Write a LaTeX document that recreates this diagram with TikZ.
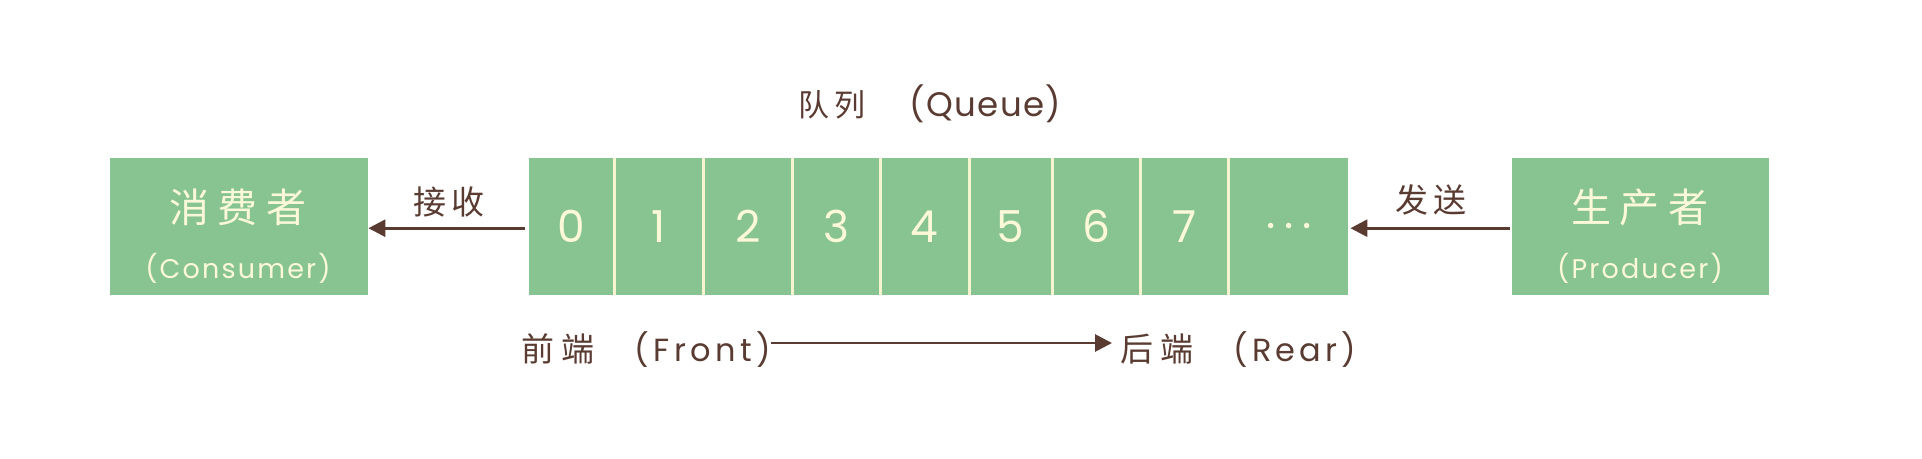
\documentclass[tikz,border=0pt]{standalone}
\usepackage{fontspec}
\newfontfamily\cjk{Noto Sans CJK SC}
\newfontfamily\lat{Poppins}
\usetikzlibrary{arrows.meta}
\definecolor{boxgreen}{HTML}{88C491}
\definecolor{cream}{HTML}{F6F3CF}
\definecolor{creamtext}{HTML}{FCF8D8}
\definecolor{brown}{HTML}{5A3B32}
\tikzset{
  x=1pt, y=-1pt,
  greenbox/.style={fill=boxgreen, draw=none, inner sep=0pt, anchor=north west},
  cell/.style={fill=boxgreen, draw=none, inner sep=0pt, minimum height=137pt, anchor=north west},
  digit/.style={text=creamtext, font=\lat\fontsize{44}{44}\selectfont, inner sep=0pt},
  boxcn/.style={text=creamtext, font=\cjk\fontsize{40}{40}\selectfont\addfontfeatures{LetterSpace=22}, inner sep=0pt},
  boxen/.style={text=creamtext, font=\lat\fontsize{27}{27}\selectfont\addfontfeatures{LetterSpace=8}, inner sep=0pt},
  lbl/.style={text=brown, inner sep=0pt},
  arr/.style={draw=brown, line width=2.8pt, -{Triangle[length=17pt,width=17pt]}},
}
\begin{document}
\begin{tikzpicture}
\useasboundingbox (0,0) rectangle (1922,458);
% consumer / producer
\node[greenbox, minimum width=258pt, minimum height=137pt] (consumer) at (110,158) {};
\node[greenbox, minimum width=257pt, minimum height=137pt] (producer) at (1512,158) {};
\node[boxcn] (consumerCn) at (238,207) {消费者};
\node[boxen] (consumerEn) at (238,268) {(Consumer)};
\node[boxcn] (producerCn) at (1640,207) {生产者};
\node[boxen] (producerEn) at (1640,268) {(Producer)};
% queue background (divider colour)
\fill[cream] (529,158) rectangle (1348,295);
\node[cell, minimum width=83.5pt] (c0) at (529,158) {};
\node[cell, minimum width=86pt] (c1) at (615.5,158) {};
\node[cell, minimum width=86pt] (c2) at (704.5,158) {};
\node[cell, minimum width=85pt] (c3) at (793.5,158) {};
\node[cell, minimum width=86pt] (c4) at (881.5,158) {};
\node[cell, minimum width=80pt] (c5) at (970.5,158) {};
\node[cell, minimum width=85pt] (c6) at (1053.5,158) {};
\node[cell, minimum width=85pt] (c7) at (1141.5,158) {};
\node[cell, minimum width=118.5pt] (c8) at (1229.5,158) {};
\foreach \i in {0,...,7} {\node[digit] at (c\i.center) {\i};}
\node[digit, anchor=base] (dots) at ([yshift=-2pt]c8.center) {.\hspace{9pt}.\hspace{9pt}.};
% labels
\node[lbl, anchor=west, font=\cjk\fontsize{31}{31}\selectfont\addfontfeatures{LetterSpace=18}] (queue) at (798,104) {队列\hspace{44pt}{\lat\fontsize{34}{34}\selectfont\addfontfeatures{LetterSpace=4}(Queue)}};
\node[lbl, font=\cjk\fontsize{33}{33}\selectfont\addfontfeatures{LetterSpace=18}] (recv) at (449,202) {接收};
\node[lbl, font=\cjk\fontsize{33}{33}\selectfont\addfontfeatures{LetterSpace=18}] (send) at (1431,200) {发送};
\node[lbl, anchor=west, font=\cjk\fontsize{33}{33}\selectfont\addfontfeatures{LetterSpace=22}] (front) at (521,350) {前端\hspace{40pt}{\lat\fontsize{32}{32}\selectfont\addfontfeatures{LetterSpace=14}(Front)}};
\node[lbl, anchor=west, font=\cjk\fontsize{33}{33}\selectfont\addfontfeatures{LetterSpace=22}] (rear) at (1120,350) {后端\hspace{40pt}{\lat\fontsize{32}{32}\selectfont\addfontfeatures{LetterSpace=13}(Rear)}};
% connectors
\draw[arr] ([xshift=-4pt,yshift=-1.5pt]c0.west) -- ([yshift=-1.5pt]consumer.east);
\draw[arr] ([xshift=-2pt,yshift=-1.5pt]producer.west) -- ([xshift=2pt,yshift=-1.5pt]c8.east);
\draw[arr] ([xshift=0pt,yshift=7pt]front.east) -- ([xshift=-8pt,yshift=7pt]rear.west);
\end{tikzpicture}
\end{document}
